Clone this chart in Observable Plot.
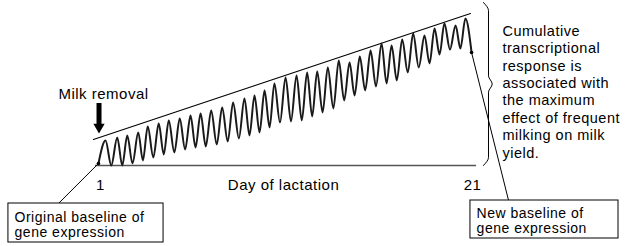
<!DOCTYPE html>
<html><head><meta charset="utf-8">
<script src="https://cdn.jsdelivr.net/npm/d3@7"></script>
<script src="https://cdn.jsdelivr.net/npm/@observablehq/plot@0.6"></script>
<style>html,body{margin:0;padding:0;background:#fff;} svg{display:block;} svg text{letter-spacing:0.5px;}</style>
</head><body><div id="chart"></div>
<script>
// ---- data (x in days of lactation, y in relative expression units above the original baseline)
const peakDays = [1.27,1.90,2.44,3.03,3.54,4.13,4.67,5.26,5.84,6.38,6.95,7.54,8.13,8.74,9.28,9.82,10.35,10.95,11.54,12.11,12.65,13.22,13.81,14.39,14.94,15.52,16.11,16.65,17.22,17.81,18.42,18.96,19.49,20.09,20.62];
const peakValues = [25,28,30,33,39,42,45,47,50,52,55,58,63,67,70,75,82,88,90,93,94,98,105,103,109,115,122,120,126,132,130,137,142,140,147];
const troughDays = [1.58,2.17,2.72,3.28,3.84,4.40,4.97,5.55,6.11,6.66,7.25,7.84,8.44,9.01,9.55,10.09,10.65,11.24,11.82,12.38,12.94,13.52,14.10,14.66,15.23,15.81,16.38,16.93,17.52,18.11,18.69,19.23,19.79,20.35];
const troughValues = [0,0,2,5,8,11,13,16,18,19,21,24,27,30,33,38,43,44,45,49,53,57,65,70,75,79,82,85,93,98,102,111,116,117];
const startPoint = {day: 0.89, value: 2};
const endPoint = {day: 20.95, value: 113};
const trendDays = [0.62, 20.89];
const trendValues = [26, 152];
const baselineDays = [0.73, 21.22];
const tickDays = [1, 21];
const tickLabels = ["1", "21"];
const axisTitle = "Day of lactation";
const arrowLabel = "Milk removal";
const leftBoxLines = ["Original baseline of", "gene expression"];
const rightBoxLines = ["New baseline of", "gene expression"];
const noteLines = ["Cumulative", "transcriptional", "response is", "associated with", "the maximum", "effect of frequent", "milking on milk", "yield."];

// ---- build curve: start, peak, trough, ..., peak, end
const curve = [{day: startPoint.day, value: startPoint.value}];
peakDays.forEach((d, i) => {
  curve.push({day: d, value: peakValues[i]});
  if (i < troughDays.length) curve.push({day: troughDays[i], value: troughValues[i]});
});
curve.push({day: endPoint.day, value: endPoint.value});

const trend = trendDays.map((d, i) => ({day: d, value: trendValues[i]}));

// ---- annotation layout (in data units)
const L = {
  leftBox: {x1: -3.95, x2: 4.39, y1: -38, y2: -77},
  rightBox: {x1: 20.89, x2: 28.85, y1: -35, y2: -73},
  arrowX: 0.92,
  brace: {x0: 21.59, x1: 21.86, x2: 22.06, top: 163, bottom: 0}
};
const leftLeader = [{day: startPoint.day, value: startPoint.value}, {day: -1.26, value: L.leftBox.y1}];
const rightLeader = [{day: endPoint.day, value: endPoint.value}, {day: 22.94, value: L.rightBox.y1}];

function bracePoints(b) {
  const mid = (b.top + b.bottom) / 2, h = b.top - b.bottom;
  const s = h * 0.05;
  return [
    {day: b.x0, value: b.top}, {day: b.x1, value: b.top - s}, {day: b.x1, value: mid + s},
    {day: b.x2, value: mid}, {day: b.x1, value: mid - s}, {day: b.x1, value: b.bottom + s},
    {day: b.x0, value: b.bottom}
  ];
}

const font = "Liberation Sans, Arial, sans-serif";

const chart = Plot.plot({
  width: 625, height: 246,
  marginTop: 0, marginRight: 0, marginBottom: 0, marginLeft: 0,
  x: {domain: [1 - 100/18.6, 1 + 525/18.6], axis: null},
  y: {domain: [-81, 165], axis: null},
  style: {background: "#fff", fontFamily: font},
  marks: [
    // baseline (x axis line)
    Plot.ruleY([0], {x1: baselineDays[0], x2: baselineDays[1], stroke: "#555", strokeWidth: 1.6}),
    // trend line over peaks
    Plot.line(trend, {x: "day", y: "value", stroke: "#000", strokeWidth: 1.1}),
    // oscillating expression curve
    Plot.line(curve, {x: "day", y: "value", curve: "monotone-x", stroke: "#1a1a1a", strokeWidth: 2}),
    // leaders
    Plot.line(leftLeader, {x: "day", y: "value", stroke: "#000", strokeWidth: 1}),
    Plot.line(rightLeader, {x: "day", y: "value", stroke: "#000", strokeWidth: 1}),
    Plot.dot([startPoint, endPoint], {x: "day", y: "value", r: 1.8, fill: "#000"}),
    // milk removal arrow
    Plot.ruleX([L.arrowX], {y1: 62, y2: 40, stroke: "#000", strokeWidth: 5}),
    Plot.dot([L.arrowX], {x: d => d, y: 38.5, symbol: "triangle", rotate: 180, r: 4.2, fill: "#000", stroke: "none"}),
    Plot.text([arrowLabel], {x: 1.16, y: 71, text: d => d, fontSize: 15, fontFamily: font, fill: "#000"}),
    // brace
    Plot.line(bracePoints(L.brace), {x: "day", y: "value", curve: "monotone-y", stroke: "#000", strokeWidth: 1}),
    // tick labels and axis title
    Plot.text(tickDays, {x: d => d, y: -20, text: (d, i) => tickLabels[i], fontSize: 15, fontFamily: font, fill: "#000"}),
    Plot.text([axisTitle], {x: 10.84, y: -20, text: d => d, fontSize: 15, fontFamily: font, fill: "#000"}),
    // boxes
    Plot.rect([L.leftBox], {x1: "x1", x2: "x2", y1: "y1", y2: "y2", fill: "#fff", stroke: "#000", strokeWidth: 1}),
    Plot.rect([L.rightBox], {x1: "x1", x2: "x2", y1: "y1", y2: "y2", fill: "#fff", stroke: "#000", strokeWidth: 1}),
    Plot.text([leftBoxLines.join("\n")], {x: -3.62, y: -45, text: d => d, textAnchor: "start", lineAnchor: "top", lineHeight: 1.12, fontSize: 14, fontFamily: font, fill: "#000"}),
    Plot.text([rightBoxLines.join("\n")], {x: 21.22, y: -41, text: d => d, textAnchor: "start", lineAnchor: "top", lineHeight: 1.12, fontSize: 14, fontFamily: font, fill: "#000"}),
    // note
    Plot.text([noteLines.join("\n")], {x: 22.61, y: 142, text: d => d, textAnchor: "start", lineAnchor: "top", lineHeight: 1.2, fontSize: 14.5, fontFamily: font, fill: "#000"})
  ]
});
document.getElementById("chart").appendChild(chart);
</script>
</body></html>
